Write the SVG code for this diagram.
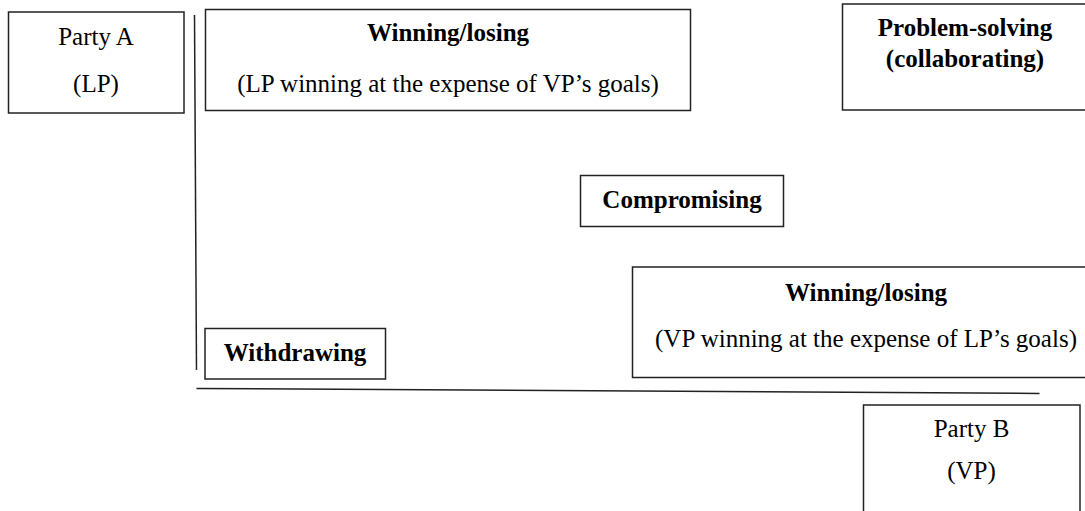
<svg xmlns="http://www.w3.org/2000/svg" width="1085" height="511" viewBox="0 0 1085 511">
<style>
.box{fill:#fff;stroke:#222;stroke-width:1.5}
.ax{stroke:#222;stroke-width:1.5;fill:none}
text{font-family:"Liberation Serif","Times New Roman",serif;font-size:25px;fill:#000;text-anchor:middle}
.b{font-weight:bold}
</style>
<rect width="1085" height="511" fill="#fff"/>
<g id="connectors">
<line class="ax" x1="194.5" y1="15" x2="196.5" y2="370"/>
<line class="ax" x1="196.5" y1="388.5" x2="1039.5" y2="393.5"/>
</g>
<g id="partyA">
<rect class="box" x="8.5" y="12" width="175.5" height="101"/>
<text x="96" y="45">Party A</text>
<text x="96" y="92">(LP)</text>
</g>
<g id="winLP">
<rect class="box" x="205.5" y="9.5" width="485" height="101"/>
<text class="b" x="448" y="41">Winning/losing</text>
<text x="448" y="92">(LP winning at the expense of VP’s goals)</text>
</g>
<g id="problemSolving">
<rect class="box" x="842.5" y="4" width="260" height="106"/>
<text class="b" x="965" y="36">Problem-solving</text>
<text class="b" x="965" y="67">(collaborating)</text>
</g>
<g id="compromising">
<rect class="box" x="580.5" y="175.5" width="203" height="51"/>
<text class="b" x="682" y="208">Compromising</text>
</g>
<g id="winVP">
<rect class="box" x="632.5" y="267" width="470" height="110.5"/>
<text class="b" x="866" y="301">Winning/losing</text>
<text x="866" y="347">(VP winning at the expense of LP’s goals)</text>
</g>
<g id="withdrawing">
<rect class="box" x="205" y="328.5" width="180.5" height="50.5"/>
<text class="b" x="295" y="361">Withdrawing</text>
</g>
<g id="partyB">
<rect class="box" x="863.5" y="405" width="216.5" height="120"/>
<text x="971.5" y="437">Party B</text>
<text x="971.5" y="479">(VP)</text>
</g>
</svg>
